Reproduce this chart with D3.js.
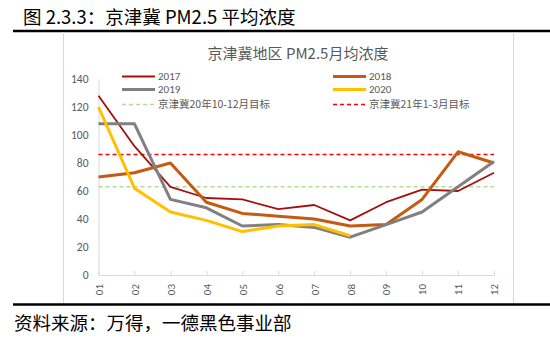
<!DOCTYPE html>
<html><head><meta charset="utf-8">
<script src="https://cdn.jsdelivr.net/npm/d3@7"></script>
<style>body{margin:0;background:#fff}svg{display:block}</style>
</head><body>
<script>
const months = ["01","02","03","04","05","06","07","08","09","10","11","12"];
const s2017 = [128,92,63,55,54,47,50,39,52,61,60,73];
const s2018 = [70,73,80,52,44,42,40,35,36,54,88,80];
const s2019 = [108,108,54,48,35,36,34,27,36,45,63,81];
const s2020 = [120,62,45,39,31,35,36,28];
const target2010_12 = 63;
const target2101_03 = 86;
const yTicks = [0,20,40,60,80,100,120,140];

const W=550,H=339;
const svg=d3.select("body").append("svg").attr("width",W).attr("height",H);
const cjk='"Noto Sans CJK SC","Noto Sans",sans-serif';
const lat='Calibri,"Liberation Sans","Open Sans",sans-serif';

svg.append("text").attr("x",23).attr("y",24).attr("font-family",cjk).attr("font-size",18.5).attr("fill","#000").text("图 2.3.3：京津冀 PM2.5 平均浓度");
svg.append("line").attr("x1",13).attr("x2",550).attr("y1",31).attr("y2",31).attr("stroke","#000").attr("stroke-width",2.5);
svg.append("line").attr("x1",13).attr("x2",550).attr("y1",304.5).attr("y2",304.5).attr("stroke","#000").attr("stroke-width",2.5);
svg.append("line").attr("x1",63.5).attr("x2",63.5).attr("y1",32).attr("y2",303).attr("stroke","#d9d9d9");
svg.append("line").attr("x1",513.5).attr("x2",513.5).attr("y1",32).attr("y2",303).attr("stroke","#d9d9d9");
svg.append("text").attr("x",14).attr("y",330).attr("font-family",cjk).attr("font-size",18.5).attr("fill","#000").text("资料来源：万得，一德黑色事业部");

svg.append("text").attr("x",298).attr("y",59).attr("text-anchor","middle").attr("font-family",cjk).attr("font-size",15).attr("fill","#595959").text("京津冀地区 PM2.5月均浓度");

const x=d3.scalePoint().domain(months).range([98.5,494]);
const y=d3.scaleLinear().domain([0,140]).range([275,79]);

// axes
const gy=svg.append("g").attr("transform","translate(98.5,0)").call(d3.axisLeft(y).tickValues(yTicks).tickSize(0).tickPadding(10));
gy.select(".domain").attr("stroke","#d9d9d9");
gy.selectAll("text").attr("font-family",lat).attr("font-size",11.5).attr("fill","#595959");

const gx=svg.append("g").attr("transform","translate(0,275)").call(d3.axisBottom(x).tickSize(-4).tickSizeOuter(0).tickPadding(0));
gx.select(".domain").attr("stroke","#d9d9d9");
gx.selectAll(".tick line").attr("stroke","#d9d9d9");
gx.selectAll("text").attr("font-family",lat).attr("font-size",11).attr("fill","#595959")
  .attr("transform","translate(0,8) rotate(-90)").attr("text-anchor","end").attr("dy","0.35em").attr("y",0).attr("x",-1);

// target lines
const hl=(v,c)=>svg.append("line").attr("x1",98.5).attr("x2",494).attr("y1",y(v)).attr("y2",y(v)).attr("stroke",c).attr("stroke-width",1.5).attr("stroke-dasharray","4,3");
hl(target2010_12,"#b4dc96");
hl(target2101_03,"#ff0000");

const line=d3.line().x((d,i)=>x(months[i])).y(d=>y(d));
const series=[
 {name:"2017",data:s2017,c:"#a50f0f",w:1.8},
 {name:"2018",data:s2018,c:"#c55a11",w:3},
 {name:"2019",data:s2019,c:"#808080",w:3},
 {name:"2020",data:s2020,c:"#ffc000",w:3}
];
series.forEach(s=>{
  svg.append("path").datum(s.data).attr("d",line).attr("fill","none").attr("stroke",s.c).attr("stroke-width",s.w).attr("stroke-linejoin","round");
});

// legend
const leg=[
 {t:"2017",c:"#a50f0f",w:1.8,x:122,y:76.5},
 {t:"2018",c:"#c55a11",w:3,x:333,y:76.5},
 {t:"2019",c:"#808080",w:3,x:122,y:89.5},
 {t:"2020",c:"#ffc000",w:3,x:333,y:89.5},
 {t:"京津冀20年10-12月目标",c:"#b4dc96",w:1.5,x:122,y:104.5,d:"4,3"},
 {t:"京津冀21年1-3月目标",c:"#ff0000",w:1.5,x:333,y:104.5,d:"4,3"}
];
leg.forEach(l=>{
  svg.append("line").attr("x1",l.x).attr("x2",l.x+33).attr("y1",l.y).attr("y2",l.y).attr("stroke",l.c).attr("stroke-width",l.w).attr("stroke-dasharray",l.d||null);
  svg.append("text").attr("x",l.x+36).attr("y",l.y).attr("dy","0.35em").attr("font-family",/\d{4}$/.test(l.t)?lat:cjk).attr("font-size",/\d{4}$/.test(l.t)?11:10.5).attr("fill","#595959").text(l.t);
});
</script>
</body></html>
